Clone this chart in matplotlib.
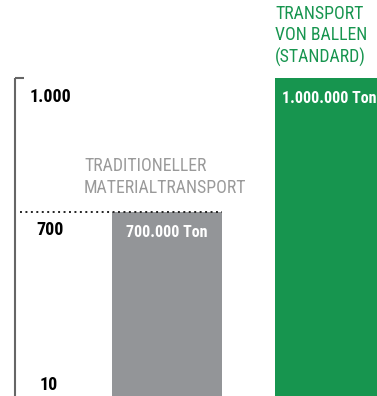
import matplotlib
matplotlib.use('Agg')
import matplotlib.pyplot as plt
from matplotlib import font_manager

# values in thousand tons
categories = ['TRADITIONELLER\nMATERIALTRANSPORT', 'TRANSPORT\nVON BALLEN\n(STANDARD)']
values = [700, 1000]
bar_labels = ['700.000 Ton', '1.000.000 Ton']
tick_values = [1000, 700]
tick_labels = ['1.000', '700']
bottom_label = '10'

gray = '#939598'
green = '#17954f'

# pick a condensed face if there is one
names = set(f.name for f in font_manager.fontManager.ttflist)
stretch = 'normal'
face = 'DejaVu Sans'
for cand in ['Roboto Condensed', 'Liberation Sans Narrow', 'Archivo Narrow']:
    if cand in names:
        face = cand
        break
else:
    stretch = 'condensed'
plt.rcParams['font.family'] = [face, 'DejaVu Sans']
plt.rcParams['font.stretch'] = stretch

fig = plt.figure(figsize=(3.77, 3.96), dpi=100)
ax = fig.add_axes([0, 0, 1, 1])
ax.set_xlim(0, 377)
ax.set_ylim(287, 1175)
ax.axis('off')

xpos = [167, 330]
width = 110
ax.bar(xpos, values, width=width, bottom=0, color=[gray, green], zorder=2)

# broken value axis on the left
ax.plot([15, 15], [287, values[1]], color='#666666', lw=1.5, solid_capstyle='butt')
ax.plot([14.5, 24], [values[1], values[1]], color='#666666', lw=1.5, solid_capstyle='butt')

# dotted guide at the top of the first bar
ax.plot([20, xpos[0] + width / 2], [values[0], values[0]], color='#222222',
        lw=1.4, ls=(0, (1, 1.8)), zorder=3)

for v, t in zip(tick_values, tick_labels):
    ax.annotate(t, (50, v), xytext=(0, -17), textcoords='offset points',
                ha='center', va='baseline', fontsize=13, fontweight='bold', color='black')
ax.text(49, 0.005, bottom_label, transform=ax.get_xaxis_transform(), ha='center',
        va='bottom', fontsize=13, fontweight='bold', color='black')

# value labels inside the bars
ax.annotate(bar_labels[0], (xpos[0], values[0]), xytext=(0, -18), textcoords='offset points',
            ha='center', va='baseline', fontsize=11.5, fontweight='bold', color='white')
ax.annotate(bar_labels[1], (xpos[1] - width / 2, values[1]), xytext=(5, -18),
            textcoords='offset points', ha='left', va='baseline', fontsize=11.5,
            fontweight='bold', color='white')

# category captions above the bars (baseline = last line)
ax.annotate(categories[0], (84, values[0]), xytext=(0, 13.7), textcoords='offset points',
            ha='left', va='baseline', fontsize=12.8, color='#9a9a9a', linespacing=1.25)
ax.annotate(categories[1], (xpos[1] - width / 2, values[1]), xytext=(0, 10.8),
            textcoords='offset points', ha='left', va='baseline', fontsize=12.8,
            color=green, linespacing=1.25)

fig.savefig('out.png', dpi=100)
